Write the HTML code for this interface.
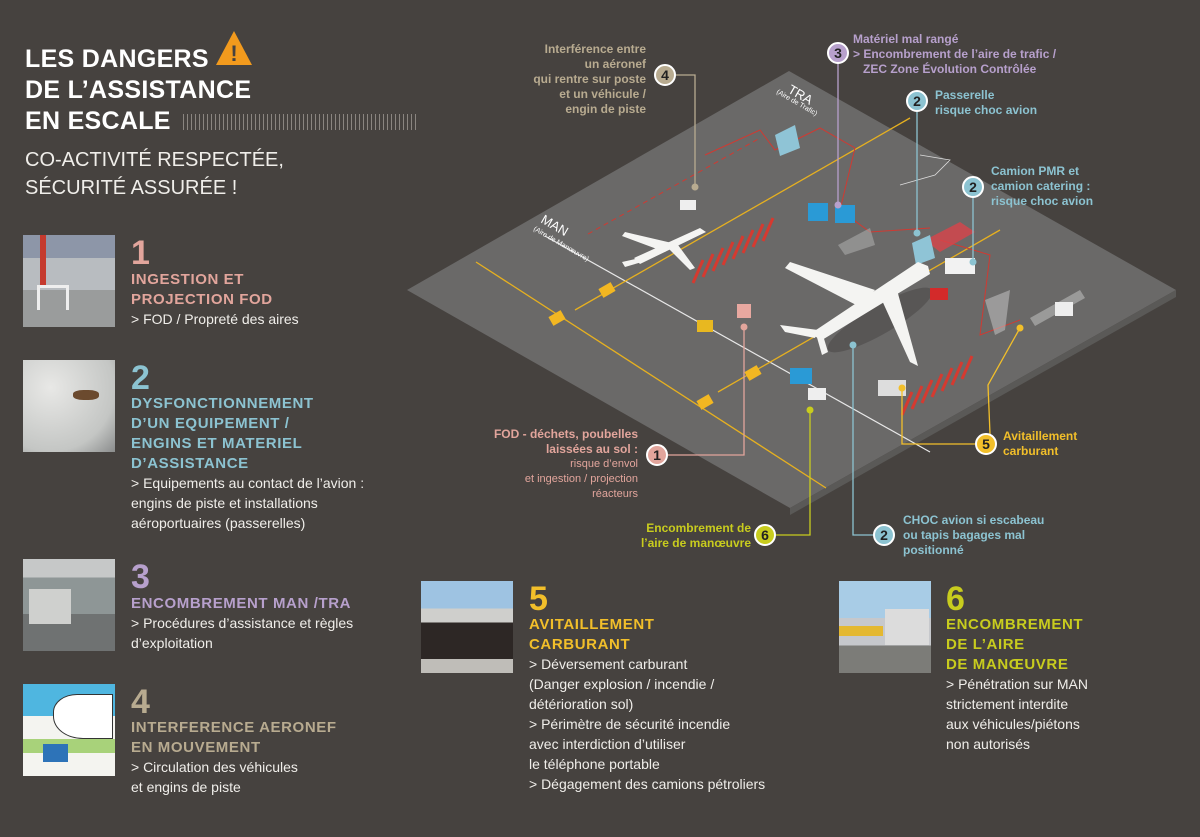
<!DOCTYPE html>
<html><head><meta charset="utf-8"><style>
*{margin:0;padding:0;box-sizing:border-box}
body{width:1200px;height:837px;background:#46423f;font-family:"Liberation Sans",sans-serif;position:relative;overflow:hidden;color:#fff}
.abs{position:absolute}
.h1{left:25px;top:44px;font-size:25px;font-weight:bold;line-height:31px;letter-spacing:0.3px}
.sub{left:25px;top:146px;font-size:20px;line-height:28px;color:#f0eeea}
.photo{position:absolute;width:92px;height:92px}
.num{position:absolute;font-size:34px;font-weight:bold;line-height:34px}
.ttl{position:absolute;font-size:15px;font-weight:bold;line-height:20px;letter-spacing:0.6px}
.txt{position:absolute;font-size:14px;line-height:20px;color:#f0eeea}
.lab{position:absolute;font-size:12px;font-weight:bold;line-height:15px}
.circ{position:absolute;width:22px;height:22px;border-radius:50%;border:2px solid #fff;color:#222;font-weight:bold;font-size:14px;text-align:center;line-height:18px}
</style></head><body>
<div class="abs h1">LES DANGERS<br>DE L’ASSISTANCE<br>EN ESCALE</div>
<svg class="abs" style="left:214px;top:29px" width="40" height="38"><polygon points="20,2 38,36 2,36" fill="#f29a1d"/><text x="20" y="32" font-size="22" font-weight="bold" fill="#46423f" text-anchor="middle" font-family="Liberation Sans">!</text></svg>
<div class="abs" style="left:183px;top:114px;width:235px;height:16px;background:repeating-linear-gradient(90deg,#8a8580 0 1px,transparent 1px 4px)"></div>
<div class="abs sub">CO-ACTIVITÉ RESPECTÉE,<br>SÉCURITÉ ASSURÉE !</div>

<div class="photo" style="left:23px;top:235px;background:linear-gradient(#8d96a8 0 25%,#b8bcc0 25% 60%,#9a9c9c 60%)"><div class="abs" style="left:14px;top:50px;width:32px;height:25px;border:3px solid #eee;border-bottom:none"></div><div class="abs" style="left:17px;top:0;width:6px;height:50px;background:#c53a2e"></div></div>
<div class="num" style="left:131px;top:236px;color:#e2a59c">1</div>
<div class="ttl" style="left:131px;top:270px;color:#e2a59c">INGESTION ET<br>PROJECTION FOD</div>
<div class="txt" style="left:131px;top:309px">&gt; FOD / Propreté des aires</div>

<div class="photo" style="left:23px;top:360px;background:radial-gradient(ellipse at 30% 30%,#e8e8e6,#c4c6c4 70%,#8a8c8c)"><div class="abs" style="left:50px;top:30px;width:26px;height:10px;background:#6b4a2e;border-radius:40%"></div></div>
<div class="num" style="left:131px;top:361px;color:#8cc3d1">2</div>
<div class="ttl" style="left:131px;top:394px;color:#8cc3d1">DYSFONCTIONNEMENT<br>D’UN EQUIPEMENT /<br>ENGINS ET MATERIEL<br>D’ASSISTANCE</div>
<div class="txt" style="left:131px;top:473px">&gt; Equipements au contact de l’avion :<br>engins de piste et installations<br>aéroportuaires (passerelles)</div>

<div class="photo" style="left:23px;top:559px;background:linear-gradient(#c6c8c8 0 20%,#8e9696 20% 60%,#6f7272 60%)"><div class="abs" style="left:6px;top:30px;width:42px;height:35px;background:#cfd0ce"></div></div>
<div class="num" style="left:131px;top:560px;color:#b7a0cc">3</div>
<div class="ttl" style="left:131px;top:594px;color:#b7a0cc">ENCOMBREMENT MAN /TRA</div>
<div class="txt" style="left:131px;top:613px">&gt; Procédures d’assistance et règles<br>d’exploitation</div>

<div class="photo" style="left:23px;top:684px;background:linear-gradient(#4fb6e0 0 35%,#f4f4f0 35% 60%,#a8d27a 60% 75%,#f4f4f0 75%)"><div class="abs" style="left:30px;top:10px;width:60px;height:45px;background:#fff;border:1px solid #333;border-radius:40% 0 0 50%"></div><div class="abs" style="left:20px;top:60px;width:25px;height:18px;background:#2d73b8"></div></div>
<div class="num" style="left:131px;top:685px;color:#b8ab90">4</div>
<div class="ttl" style="left:131px;top:718px;color:#b8ab90">INTERFERENCE AERONEF<br>EN MOUVEMENT</div>
<div class="txt" style="left:131px;top:757px">&gt; Circulation des véhicules<br>et engins de piste</div>

<div class="photo" style="left:421px;top:581px;background:linear-gradient(#9ec3e2 0 30%,#cfcfcc 30% 45%,#2d2725 45% 85%,#bfbdb8 85%)"></div>
<div class="num" style="left:529px;top:582px;color:#f2bf2a">5</div>
<div class="ttl" style="left:529px;top:615px;color:#f2bf2a">AVITAILLEMENT<br>CARBURANT</div>
<div class="txt" style="left:529px;top:654px">&gt; Déversement carburant<br>(Danger explosion / incendie /<br>détérioration sol)<br>&gt; Périmètre de sécurité incendie<br>avec interdiction d’utiliser<br>le téléphone portable<br>&gt; Dégagement des camions pétroliers</div>

<div class="photo" style="left:839px;top:581px;background:linear-gradient(#a8cce6 0 40%,#c6c8cc 40% 70%,#7c7c78 70%)"><div class="abs" style="left:46px;top:28px;width:44px;height:36px;background:#dcdcdc"></div><div class="abs" style="left:0;top:45px;width:44px;height:10px;background:#e4b830"></div></div>
<div class="num" style="left:946px;top:582px;color:#c8cc1e">6</div>
<div class="ttl" style="left:946px;top:615px;color:#c8cc1e">ENCOMBREMENT<br>DE L’AIRE<br>DE MANŒUVRE</div>
<div class="txt" style="left:946px;top:674px">&gt; Pénétration sur MAN<br>strictement interdite<br>aux véhicules/piétons<br>non autorisés</div>

<svg class="abs" style="left:0;top:0" width="1200" height="837">
<polygon points="407,290 789,71 1176,290 790,508" fill="#6a6968"/>
<polygon points="1176,290 790,508 790,515 1176,297" fill="#5a5957"/>
<line x1="545" y1="236" x2="930" y2="452" stroke="#e8e8e8" stroke-width="1.2"/>
<line x1="476" y1="262" x2="826" y2="488" stroke="#e6b020" stroke-width="1.3"/>
<line x1="575" y1="310" x2="910" y2="118" stroke="#e6b020" stroke-width="1.3"/>
<line x1="718" y1="392" x2="1000" y2="230" stroke="#e6b020" stroke-width="1.3"/>
<line x1="588" y1="234" x2="760" y2="138" stroke="#d03a32" stroke-width="1" stroke-dasharray="5,4"/>
<polyline points="705,155 760,130 775,150 820,128 855,148 840,210 870,232 930,228" fill="none" stroke="#d03a32" stroke-width="1"/>
<polyline points="940,240 990,255 980,335 1020,320" fill="none" stroke="#d03a32" stroke-width="1"/>
<polyline points="920,155 950,160 935,175 900,185" fill="none" stroke="#ddd" stroke-width="0.8"/>
<g stroke="#d53a30" stroke-width="3">
<line x1="693" y1="283" x2="703" y2="260"/><line x1="703" y1="277" x2="713" y2="254"/><line x1="713" y1="271" x2="723" y2="248"/><line x1="723" y1="265" x2="733" y2="242"/><line x1="733" y1="259" x2="743" y2="236"/><line x1="743" y1="253" x2="753" y2="230"/><line x1="753" y1="247" x2="763" y2="224"/><line x1="763" y1="241" x2="773" y2="218"/>
<line x1="902" y1="415" x2="912" y2="392"/><line x1="912" y1="409" x2="922" y2="386"/><line x1="922" y1="403" x2="932" y2="380"/><line x1="932" y1="397" x2="942" y2="374"/><line x1="942" y1="391" x2="952" y2="368"/><line x1="952" y1="385" x2="962" y2="362"/><line x1="962" y1="379" x2="972" y2="356"/>
</g>
<polygon points="925,240 960,222 975,232 940,252" fill="#d9444a" opacity="0.8"/>
<polygon points="838,245 870,228 875,245 845,255" fill="#aaa" opacity="0.6"/>
<polygon points="985,300 1010,290 1005,330 995,335" fill="#ccc" opacity="0.5"/>
<polygon points="1030,318 1080,290 1085,298 1035,326" fill="#bbb" opacity="0.6"/>
<polygon points="775,135 795,125 800,148 780,156" fill="#8fc4d6"/>
<polygon points="912,243 930,235 935,258 916,265" fill="#8fc4d6"/>
<ellipse cx="880" cy="320" rx="60" ry="14" fill="#2e2c2b" opacity="0.3" transform="rotate(-30 880 320)"/>
<g fill="#f4f4f2">
<polygon points="918,262 928,266 930,274 822,340 810,334"/>
<polygon points="875,290 790,262 785,268 860,307"/>
<polygon points="880,296 910,362 918,366 897,290"/>
<polygon points="818,330 780,325 785,332 815,338"/>
<polygon points="816,334 822,355 828,352 822,332"/>
</g>
<g fill="#f4f4f2">
<polygon points="700,228 706,232 640,264 634,258"/>
<polygon points="672,243 625,232 622,236 665,252"/>
<polygon points="668,248 690,270 695,268 678,245"/>
<polygon points="640,258 622,262 625,267 642,262"/>
</g>
<rect x="680" y="200" width="16" height="10" fill="#eee"/>
<rect x="808" y="203" width="20" height="18" fill="#2a9ad6"/><rect x="835" y="205" width="20" height="18" fill="#2a9ad6"/>
<rect x="790" y="368" width="22" height="16" fill="#2a9ad6"/>
<rect x="808" y="388" width="18" height="12" fill="#eee"/>
<rect x="878" y="380" width="28" height="16" fill="#ddd"/>
<rect x="945" y="258" width="30" height="16" fill="#f2f2f2"/>
<rect x="930" y="288" width="18" height="12" fill="#d32a2a"/>
<rect x="697" y="320" width="16" height="12" fill="#e8b820"/>
<rect x="737" y="304" width="14" height="14" fill="#e8a8a0"/>
<rect x="1055" y="302" width="18" height="14" fill="#eee"/>
<g fill="#f2b722"><rect x="600" y="285" width="14" height="10" transform="rotate(-30 607 290)"/><rect x="550" y="313" width="14" height="10" transform="rotate(-30 557 318)"/><rect x="746" y="368" width="14" height="10" transform="rotate(-30 753 373)"/><rect x="698" y="397" width="14" height="10" transform="rotate(-30 705 402)"/></g>
<text x="0" y="0" transform="translate(787,92) rotate(30)" font-size="13" fill="#fff" font-family="Liberation Sans">TRA</text>
<text x="0" y="0" transform="translate(776,93) rotate(30)" font-size="7" fill="#fff" font-family="Liberation Sans">(Aire de Trafic)</text>
<text x="0" y="0" transform="translate(540,222) rotate(30)" font-size="13" fill="#fff" font-family="Liberation Sans">MAN</text>
<text x="0" y="0" transform="translate(533,230) rotate(30)" font-size="7" fill="#fff" font-family="Liberation Sans">(Aire de Manœuvre)</text>
<g fill="none" stroke-width="1.3">
<polyline points="676,75 695,75 695,187" stroke="#b8ab90"/>
<polyline points="838,62 838,205" stroke="#b7a0cc"/>
<polyline points="917,112 917,233" stroke="#8cc3d1"/>
<polyline points="973,197 973,262" stroke="#8cc3d1"/>
<polyline points="668,455 744,455 744,327" stroke="#e2a59c"/>
<polyline points="975,444 902,444 902,388" stroke="#f2bf2a"/>
<polyline points="990,434 988,385 1020,328" stroke="#f2bf2a"/>
<polyline points="776,535 810,535 810,410" stroke="#c8cc1e"/>
<polyline points="873,535 853,535 853,345" stroke="#8cc3d1"/>
</g>
<g><circle cx="695" cy="187" r="3.5" fill="#b8ab90"/><circle cx="838" cy="205" r="3.5" fill="#b7a0cc"/><circle cx="917" cy="233" r="3.5" fill="#8cc3d1"/><circle cx="973" cy="262" r="3.5" fill="#8cc3d1"/><circle cx="744" cy="327" r="3.5" fill="#e2a59c"/><circle cx="902" cy="388" r="3.5" fill="#f2bf2a"/><circle cx="1020" cy="328" r="3.5" fill="#f2bf2a"/><circle cx="810" cy="410" r="3.5" fill="#c8cc1e"/><circle cx="853" cy="345" r="3.5" fill="#8cc3d1"/></g>
</svg>

<div class="circ" style="left:654px;top:64px;background:#b8ab90">4</div>
<div class="lab" style="left:500px;top:42px;width:146px;text-align:right;color:#b8ab90">Interférence entre<br>un aéronef<br>qui rentre sur poste<br>et un véhicule /<br>engin de piste</div>
<div class="circ" style="left:827px;top:42px;background:#b7a0cc">3</div>
<div class="lab" style="left:853px;top:32px;color:#b7a0cc">Matériel mal rangé<br>&gt; Encombrement de l’aire de trafic /<br>&nbsp;&nbsp;&nbsp;ZEC Zone Évolution Contrôlée</div>
<div class="circ" style="left:906px;top:90px;background:#8cc3d1">2</div>
<div class="lab" style="left:935px;top:88px;color:#8cc3d1">Passerelle<br>risque choc avion</div>
<div class="circ" style="left:962px;top:176px;background:#8cc3d1">2</div>
<div class="lab" style="left:991px;top:164px;color:#8cc3d1">Camion PMR et<br>camion catering :<br>risque choc avion</div>
<div class="circ" style="left:646px;top:444px;background:#e2a59c">1</div>
<div class="lab" style="left:460px;top:427px;width:178px;text-align:right;color:#e2a59c">FOD - déchets, poubelles<br>laissées au sol :</div>
<div class="lab" style="left:460px;top:457px;width:178px;text-align:right;color:#e2a59c;font-weight:normal;font-size:11px">risque d’envol<br>et ingestion / projection<br>réacteurs</div>
<div class="circ" style="left:975px;top:433px;background:#f2bf2a">5</div>
<div class="lab" style="left:1003px;top:429px;color:#f2bf2a">Avitaillement<br>carburant</div>
<div class="circ" style="left:754px;top:524px;background:#c8cc1e">6</div>
<div class="lab" style="left:615px;top:521px;width:136px;text-align:right;color:#c8cc1e">Encombrement de<br>l’aire de manœuvre</div>
<div class="circ" style="left:873px;top:524px;background:#8cc3d1">2</div>
<div class="lab" style="left:903px;top:513px;color:#8cc3d1">CHOC avion si escabeau<br>ou tapis bagages mal<br>positionné</div>
</body></html>
